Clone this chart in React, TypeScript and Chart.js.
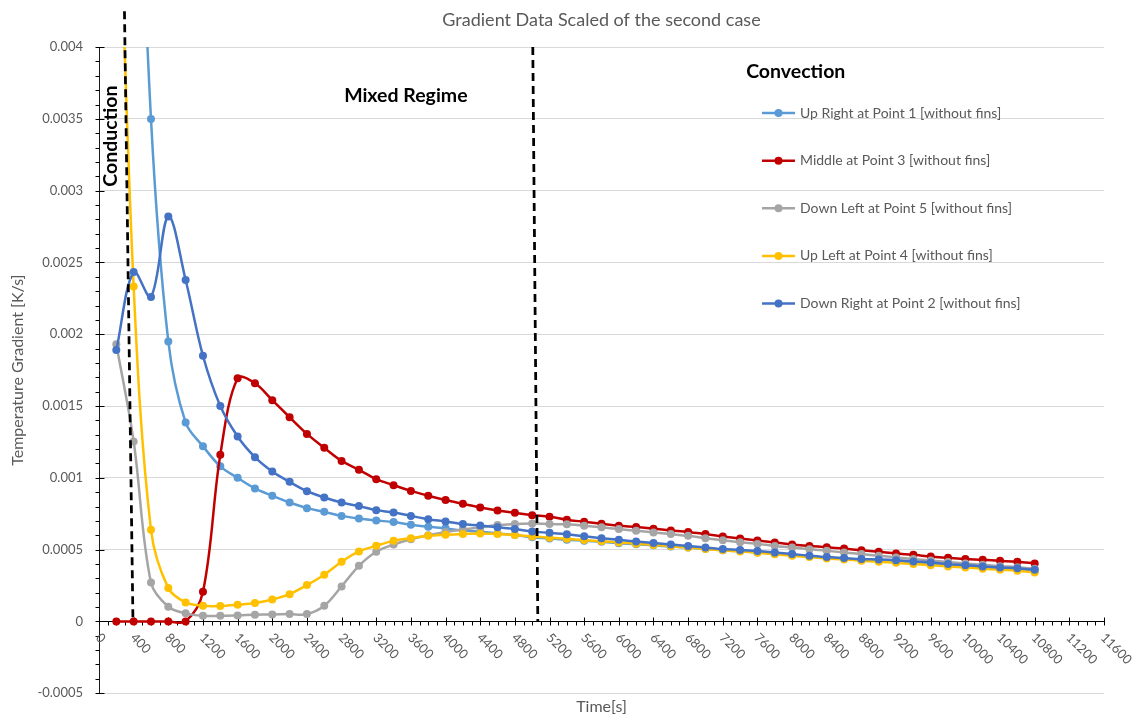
import React, { useEffect, useRef } from "react";
import { Chart, registerables } from "chart.js";

Chart.register(...registerables);

// ---------- data ----------
const times = [
  200, 400, 600, 800, 1000, 1200, 1400, 1600, 1800, 2000, 2200, 2400, 2600, 2800, 3000, 3200, 3400, 3600,
  3800, 4000, 4200, 4400, 4600, 4800, 5000, 5200, 5400, 5600, 5800, 6000, 6200, 6400, 6600, 6800, 7000, 7200,
  7400, 7600, 7800, 8000, 8200, 8400, 8600, 8800, 9000, 9200, 9400, 9600, 9800, 10000, 10200, 10400, 10600, 10800,
];

const upRightP1 = [
  0.0095, 0.0065, 0.0035, 0.00195, 0.001385, 0.00122, 0.00108, 0.001, 0.000926, 0.000875, 0.000828, 0.000789,
  0.000763, 0.000735, 0.000717, 0.000703, 0.000692, 0.000673, 0.000659, 0.000648, 0.000633, 0.000624, 0.000613,
  0.000601, 0.000587, 0.000578, 0.000568, 0.000562, 0.000554, 0.000545, 0.000537, 0.00053, 0.000522, 0.000514,
  0.000506, 0.000496, 0.00049, 0.000481, 0.000472, 0.000462, 0.000453, 0.000444, 0.000436, 0.000428, 0.000421,
  0.000415, 0.000408, 0.000401, 0.000392, 0.000385, 0.000376, 0.000369, 0.000362, 0.00035,
];

const middleP3 = [
  0, 0, 0, 0, 0, 0.000206, 0.00116, 0.001694, 0.001659, 0.001541, 0.001422, 0.001306, 0.001209, 0.001118,
  0.001056, 0.000991, 0.000949, 0.000909, 0.000875, 0.000845, 0.000819, 0.000794, 0.000773, 0.000756, 0.00074,
  0.000729, 0.000708, 0.000694, 0.00068, 0.000666, 0.000657, 0.000646, 0.000634, 0.000623, 0.000608, 0.000592,
  0.000578, 0.000563, 0.00055, 0.000536, 0.000526, 0.000516, 0.000507, 0.000496, 0.000485, 0.000473, 0.000464,
  0.000452, 0.000443, 0.000434, 0.000429, 0.000422, 0.000415, 0.000404,
];

const downLeftP5 = [
  0.00193, 0.001253, 0.000271, 0.000102, 0.000056, 0.000039, 0.000039, 0.000042, 0.000046, 0.000049, 0.000051,
  0.000051, 0.000109, 0.000244, 0.000387, 0.000485, 0.000535, 0.000572, 0.0006, 0.000622, 0.00064, 0.000655,
  0.000671, 0.000678, 0.000682, 0.000678, 0.000676, 0.000666, 0.000655, 0.000643, 0.000631, 0.00062, 0.000608,
  0.000596, 0.00058, 0.000565, 0.000552, 0.00054, 0.000526, 0.000515, 0.000502, 0.000492, 0.00048, 0.000469,
  0.000457, 0.000446, 0.000435, 0.000425, 0.000414, 0.000404, 0.000394, 0.000385, 0.000377, 0.000366,
];

const upLeftP4 = [
  0.0058, 0.002332, 0.000638, 0.000232, 0.000132, 0.000109, 0.000107, 0.000116, 0.000128, 0.000153, 0.00019,
  0.000253, 0.000325, 0.000415, 0.000487, 0.000527, 0.000561, 0.00058, 0.000596, 0.000603, 0.000608, 0.000613,
  0.000608, 0.000601, 0.000592, 0.000583, 0.000575, 0.000567, 0.000558, 0.00055, 0.000541, 0.000533, 0.000523,
  0.000514, 0.000505, 0.000495, 0.000487, 0.000478, 0.000468, 0.000458, 0.000448, 0.000439, 0.000431, 0.000423,
  0.000415, 0.000408, 0.0004, 0.000392, 0.000383, 0.000376, 0.000367, 0.00036, 0.000353, 0.000341,
];

const downRightP2 = [
  0.00189, 0.002434, 0.00226, 0.002821, 0.002378, 0.00185, 0.0015, 0.001288, 0.001144, 0.001044, 0.000972,
  0.000907, 0.000863, 0.000828, 0.000803, 0.000775, 0.000759, 0.000735, 0.000712, 0.000696, 0.000678, 0.000668,
  0.000655, 0.000643, 0.000626, 0.000617, 0.000607, 0.000593, 0.00058, 0.000568, 0.000557, 0.000546, 0.000535,
  0.000525, 0.000514, 0.000504, 0.000498, 0.00049, 0.00048, 0.000469, 0.000458, 0.000448, 0.000441, 0.000434,
  0.000431, 0.000426, 0.000418, 0.000411, 0.000399, 0.000392, 0.000383, 0.000376, 0.000371, 0.000359,
];

const seriesLabels = [
  "Up Right at Point 1 [without fins]",
  "Middle at Point 3 [without fins]",
  "Down Left at Point 5 [without fins]",
  "Up Left at Point 4 [without fins]",
  "Down Right at Point 2 [without fins]",
];
const seriesColors = ["#5B9BD5", "#C00000", "#A5A5A5", "#FFC000", "#4472C4"];
const seriesValues = [upRightP1, middleP3, downLeftP5, upLeftP4, downRightP2];
const seriesDrawOrder = [4, 3, 2, 1, 0];

const xTickValues = [
  0, 400, 800, 1200, 1600, 2000, 2400, 2800, 3200, 3600, 4000, 4400, 4800, 5200, 5600, 6000, 6400, 6800, 7200,
  7600, 8000, 8400, 8800, 9200, 9600, 10000, 10400, 10800, 11200, 11600,
];
const X_MINOR_STEP = 100;
const Y_MINOR_STEP = 0.0001;
const Y_MAJOR_STEP = 0.0005;

const conductionBoundary = [
  { x: 294, y: 0.00425 },
  { x: 392, y: 0 },
];
const convectionBoundary = [
  { x: 5007, y: 0.004 },
  { x: 5065, y: 0 },
];
const regionLabels = [
  { text: "Conduction", x: 138, y: 0.00338, vertical: true },
  { text: "Mixed Regime", x: 3542, y: 0.00366, vertical: false },
  { text: "Convection", x: 8042, y: 0.00383, vertical: false },
];

const FONT = "Lato, 'Open Sans', sans-serif";
const TEXT_GREY = "#595959";

// ---------- plugin ----------
const overlayPlugin = {
  id: "overlay",
  beforeDatasetsDraw(chart: any) {
    const ctx = chart.ctx;
    const xs = chart.scales.x;
    const ys = chart.scales.y;
    const y0 = Math.round(ys.getPixelForValue(0)) + 0.5;
    const x0 = Math.round(chart.chartArea.left) + 0.5;
    ctx.save();
    ctx.strokeStyle = "#000";
    ctx.lineWidth = 1;
    // x ticks (major crossing, minor below)
    const nx = Math.round((xs.max - xs.min) / X_MINOR_STEP);
    for (let i = 0; i <= nx; i++) {
      const v = xs.min + i * X_MINOR_STEP;
      const px = Math.round(xs.getPixelForValue(v)) + 0.5;
      const major = i % 4 === 0;
      ctx.beginPath();
      ctx.moveTo(px, major ? y0 - 4 : y0);
      ctx.lineTo(px, y0 + 4);
      ctx.stroke();
    }
    // y ticks (major crossing, minor outside)
    const ny = Math.round((ys.max - ys.min) / Y_MINOR_STEP);
    const per = Math.round(Y_MAJOR_STEP / Y_MINOR_STEP);
    for (let i = 0; i <= ny; i++) {
      const v = ys.min + i * Y_MINOR_STEP;
      const py = Math.round(ys.getPixelForValue(v)) + 0.5;
      const major = i % per === 0;
      ctx.beginPath();
      ctx.moveTo(x0 - 4, py);
      ctx.lineTo(major ? x0 + 5 : x0, py);
      ctx.stroke();
    }
    // x tick labels, rotated clockwise
    ctx.fillStyle = TEXT_GREY;
    ctx.font = `13px ${FONT}`;
    ctx.textAlign = "left";
    ctx.textBaseline = "middle";
    for (const v of xTickValues) {
      const px = xs.getPixelForValue(v);
      ctx.save();
      ctx.translate(px - 1, y0 + 14);
      ctx.rotate(Math.PI / 4);
      ctx.fillText(String(v), 0, 0);
      ctx.restore();
    }
    ctx.restore();
  },
  afterDraw(chart: any) {
    const ctx = chart.ctx;
    const xs = chart.scales.x;
    const ys = chart.scales.y;
    const area = chart.chartArea;
    ctx.save();
    // region labels
    ctx.fillStyle = "#000";
    ctx.font = `bold 19.5px ${FONT}`;
    ctx.textAlign = "center";
    ctx.textBaseline = "middle";
    for (const r of regionLabels) {
      const px = xs.getPixelForValue(r.x);
      const py = ys.getPixelForValue(r.y);
      ctx.save();
      ctx.translate(px, py);
      if (r.vertical) ctx.rotate(-Math.PI / 2);
      ctx.fillText(r.text, 0, 0);
      ctx.restore();
    }
    // legend
    const lx = area.left + 663;
    let ly = area.top + 66;
    ctx.font = `14px ${FONT}`;
    ctx.textAlign = "left";
    for (let i = 0; i < seriesLabels.length; i++) {
      const c = seriesColors[i];
      ctx.strokeStyle = c;
      ctx.lineWidth = 2.5;
      ctx.beginPath();
      ctx.moveTo(lx, ly);
      ctx.lineTo(lx + 33, ly);
      ctx.stroke();
      ctx.fillStyle = c;
      ctx.beginPath();
      ctx.arc(lx + 16.5, ly, 4, 0, Math.PI * 2);
      ctx.fill();
      ctx.fillStyle = TEXT_GREY;
      ctx.fillText(seriesLabels[i], lx + 38, ly);
      ly += 47.6;
    }
    ctx.restore();
  },
};

export default function App() {
  const ref = useRef<HTMLCanvasElement>(null);

  useEffect(() => {
    if (!ref.current) return;
    Chart.defaults.font.family = FONT;

    const datasets: any[] = seriesValues.map((vals, i) => ({
      label: seriesLabels[i],
      data: times.map((t, k) => ({ x: t, y: vals[k] })),
      borderColor: seriesColors[i],
      backgroundColor: seriesColors[i],
      pointBackgroundColor: seriesColors[i],
      pointBorderColor: seriesColors[i],
      borderWidth: 2.5,
      pointRadius: 4,
      pointBorderWidth: 0,
      tension: 0.35,
      fill: false,
      order: seriesDrawOrder[i],
    }));
    for (const b of [conductionBoundary, convectionBoundary]) {
      datasets.push({
        label: "",
        data: b,
        borderColor: "#000",
        borderWidth: 2.75,
        borderDash: [8, 5],
        pointRadius: 0,
        tension: 0,
        fill: false,
        clip: false,
        order: -1,
      });
    }

    const chart = new Chart(ref.current, {
      type: "line",
      data: { datasets },
      plugins: [overlayPlugin],
      options: {
        animation: false,
        responsive: false,
        devicePixelRatio: 1,
        layout: { padding: { left: 0, right: 30, top: 0, bottom: 0 } },
        plugins: {
          legend: { display: false },
          tooltip: { enabled: false },
          title: {
            display: true,
            fullSize: false,
            text: "Gradient Data Scaled of the second case",
            color: TEXT_GREY,
            font: { size: 18, weight: "normal", family: FONT },
            padding: { top: 9, bottom: 16.5 },
          },
          subtitle: {
            display: true,
            fullSize: false,
            position: "bottom",
            text: "Time[s]",
            color: TEXT_GREY,
            font: { size: 16, weight: "normal", family: FONT },
            padding: { top: 4, bottom: 0 },
          },
        },
        scales: {
          x: {
            type: "linear",
            position: { y: 0 } as any,
            min: 0,
            max: 11600,
            ticks: { display: false, stepSize: 400 },
            grid: { display: false },
            border: { display: true, color: "#000", width: 1 },
          },
          y: {
            type: "linear",
            position: "left",
            min: -0.0005,
            max: 0.004,
            afterFit: (s: any) => {
              s.width = 99;
            },
            ticks: {
              stepSize: 0.0005,
              color: TEXT_GREY,
              font: { size: 13, family: FONT },
              padding: 16,
              callback: (v: any) => String(Number(Number(v).toFixed(4))),
            },
            grid: { color: "#d9d9d9", lineWidth: 1, drawTicks: false },
            border: { display: true, color: "#1a1a1a", width: 1 },
            title: {
              display: true,
              text: "Temperature Gradient [K/s]",
              color: TEXT_GREY,
              font: { size: 16, family: FONT },
              padding: { top: 8, bottom: 0 },
            },
          },
        },
      },
    } as any);

    return () => chart.destroy();
  }, []);

  return (
    <div style={{ position: "fixed", left: 0, top: 0, width: 1134, height: 717, background: "#fff" }}>
      <canvas ref={ref} width={1134} height={717} style={{ display: "block", width: 1134, height: 717 }} />
    </div>
  );
}
